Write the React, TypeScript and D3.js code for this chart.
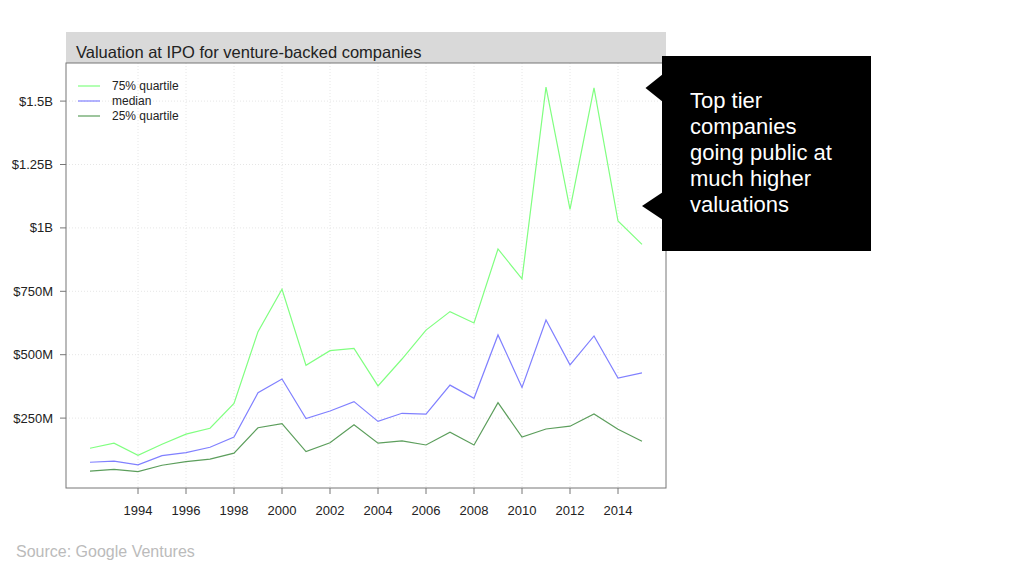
import React, { useEffect, useRef } from 'react';
import * as d3 from 'd3';

const years = [1992, 1993, 1994, 1995, 1996, 1997, 1998, 1999, 2000, 2001, 2002, 2003, 2004, 2005, 2006, 2007, 2008, 2009, 2010, 2011, 2012, 2013, 2014, 2015];

// values in $M
const q75 = [131, 151, 103, 147, 187, 210, 308, 591, 758, 458, 516, 525, 377, 483, 597, 670, 625, 917, 799, 1555, 1073, 1552, 1027, 935];
const median = [76, 80, 66, 102, 114, 135, 175, 350, 404, 248, 278, 315, 237, 269, 266, 380, 328, 578, 371, 637, 460, 574, 408, 428];
const q25 = [41, 48, 39, 64, 78, 88, 112, 212, 228, 118, 153, 224, 151, 160, 144, 194, 144, 311, 175, 207, 218, 266, 206, 159];

const yTicks = [250, 500, 750, 1000, 1250, 1500];
const yTickLabels = ['$250M', '$500M', '$750M', '$1B', '$1.25B', '$1.5B'];
const xTicks = [1994, 1996, 1998, 2000, 2002, 2004, 2006, 2008, 2010, 2012, 2014];

const seriesNames = ['75% quartile', 'median', '25% quartile'];
const seriesColors = ['#80ff80', '#8080ff', '#5c9e5c'];

const calloutLines = ['Top tier', 'companies', 'going public at', 'much higher', 'valuations'];

const App: React.FC = () => {
  const svgRef = useRef<SVGSVGElement>(null);

  useEffect(() => {
    if (!svgRef.current) return;
    const svg = d3.select(svgRef.current);
    svg.selectAll('*').remove();

    const font = 'Liberation Sans, Arial, Helvetica, sans-serif';
    const left = 66, right = 666, top = 63, bottom = 488;

    const x = d3.scaleLinear().domain([1991, 2016]).range([left, right]);
    const y = d3.scaleLinear().domain([0, 250]).range([481.5, 418.1]);

    // title strip
    svg.append('rect')
      .attr('x', left).attr('y', 32)
      .attr('width', right - left).attr('height', top - 32)
      .style('fill', '#d9d9d9');
    svg.append('text')
      .attr('x', left + 10).attr('y', 58)
      .style('font-family', font).style('font-size', '16.5px').style('fill', '#222')
      .text('Valuation at IPO for venture-backed companies');

    // grid
    const grid = svg.append('g');
    xTicks.forEach(t => {
      grid.append('line')
        .attr('x1', x(t)).attr('x2', x(t)).attr('y1', top).attr('y2', bottom)
        .style('stroke', '#e6e6e6').style('stroke-dasharray', '1,2');
    });
    yTicks.forEach(t => {
      grid.append('line')
        .attr('x1', left).attr('x2', right).attr('y1', y(t)).attr('y2', y(t))
        .style('stroke', '#e6e6e6').style('stroke-dasharray', '1,2');
    });

    // panel border
    svg.append('rect')
      .attr('x', left).attr('y', top)
      .attr('width', right - left).attr('height', bottom - top)
      .style('fill', 'none').style('stroke', '#777').style('stroke-width', 1);

    // y axis
    yTicks.forEach((t, i) => {
      svg.append('line')
        .attr('x1', left - 6).attr('x2', left).attr('y1', y(t)).attr('y2', y(t))
        .style('stroke', '#777');
      svg.append('text')
        .attr('x', 53).attr('y', y(t) + 4.5)
        .style('text-anchor', 'end')
        .style('font-family', font).style('font-size', '13px').style('fill', '#222')
        .text(yTickLabels[i]);
    });

    // x axis
    xTicks.forEach(t => {
      svg.append('line')
        .attr('x1', x(t)).attr('x2', x(t)).attr('y1', bottom).attr('y2', bottom + 6)
        .style('stroke', '#777');
      svg.append('text')
        .attr('x', x(t)).attr('y', 515)
        .style('text-anchor', 'middle')
        .style('font-family', font).style('font-size', '13px').style('fill', '#222')
        .text(t);
    });

    // lines
    const line = d3.line<number>()
      .x((_, i) => x(years[i]))
      .y(d => y(d));
    [q75, median, q25].forEach((s, i) => {
      svg.append('path')
        .datum(s)
        .attr('d', line)
        .style('fill', 'none')
        .style('stroke', seriesColors[i])
        .style('stroke-width', 1.2);
    });

    // legend
    seriesNames.forEach((n, i) => {
      const ly = 86 + i * 15;
      svg.append('line')
        .attr('x1', 78).attr('x2', 100).attr('y1', ly).attr('y2', ly)
        .style('stroke', seriesColors[i]).style('stroke-width', 1.2);
      svg.append('text')
        .attr('x', 112).attr('y', ly + 4)
        .style('font-family', font).style('font-size', '12px').style('fill', '#222')
        .text(n);
    });

    // callout
    svg.append('rect')
      .attr('x', 662).attr('y', 56).attr('width', 209).attr('height', 195)
      .style('fill', '#000');
    svg.append('path')
      .attr('d', 'M645.5,88 L663,74 L663,102 Z')
      .style('fill', '#000');
    svg.append('path')
      .attr('d', 'M642,206 L663,192 L663,220 Z')
      .style('fill', '#000');
    calloutLines.forEach((l, i) => {
      svg.append('text')
        .attr('x', 690).attr('y', 108 + i * 26)
        .style('font-family', font).style('font-size', '22px').style('fill', '#fff')
        .text(l);
    });

    // source
    svg.append('text')
      .attr('x', 16).attr('y', 557)
      .style('font-family', font).style('font-size', '16px').style('fill', '#bbb')
      .text('Source: Google Ventures');
  }, []);

  return (
    <svg
      ref={svgRef}
      width={1024}
      height={576}
      style={{ position: 'absolute', left: 0, top: 0, background: '#fff' }}
    />
  );
};

export default App;
